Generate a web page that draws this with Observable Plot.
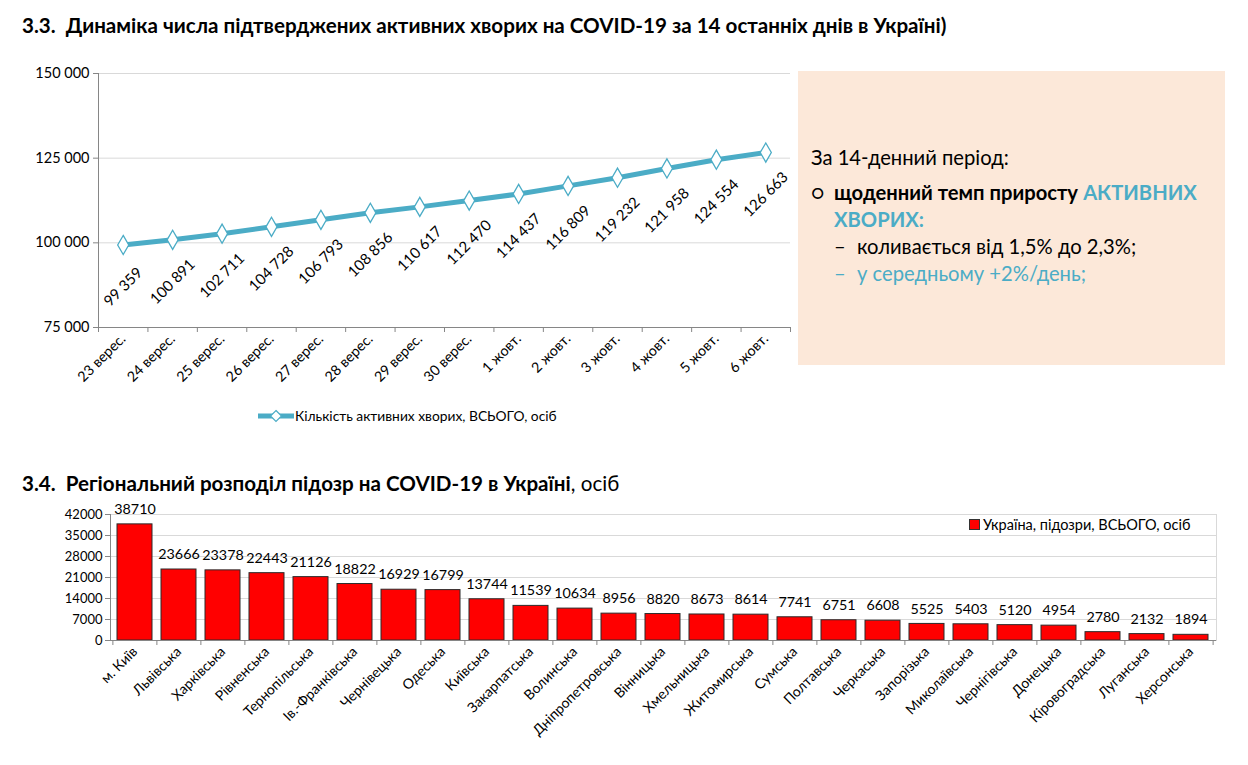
<!DOCTYPE html>
<html><head><meta charset="utf-8">
<script src="https://cdn.jsdelivr.net/npm/d3@7"></script>
<script src="https://cdn.jsdelivr.net/npm/@observablehq/plot@0.6"></script>
<style>
body{margin:0;background:#fff;font-family:Lato, Roboto, sans-serif;color:#000;}
#page{position:relative;width:1248px;height:765px;overflow:hidden;background:#fff;}
.abs{position:absolute;white-space:nowrap;}
.title{font-weight:bold;font-size:20.6px;line-height:24px;}
#box{left:798px;top:71px;width:427px;height:294px;background:#fce8d9;}
#box .ln{position:absolute;font-size:20.2px;line-height:26px;white-space:nowrap;}
.teal{color:#4bacc6;}
.legend{display:flex;align-items:center;}
</style></head><body><div id="page">
<div class="abs title" style="left:22px;top:13px">3.3.&nbsp; Динаміка числа підтверджених активних хворих на COVID-19 за 14 останніх днів в Україні)</div>
<div class="abs" id="topChart" style="left:0;top:60px"></div>
<div class="abs legend" style="left:258px;top:407px;font-size:13.8px">
  <svg width="36" height="14" style="margin-right:1px"><line x1="0" y1="7" x2="36" y2="7" stroke="#4bacc6" stroke-width="5"/><path d="M18,1.5L23.5,7L18,12.5L12.5,7Z" fill="#fff" stroke="#4bacc6" stroke-width="1.2"/></svg>
  <span>Кількість активних хворих, ВСЬОГО, осіб</span>
</div>
<div class="abs" id="box">
  <div class="ln" style="left:13px;top:73px">За 14-денний період:</div>
  <div class="ln" style="left:13px;top:108px">○</div>
  <div class="ln" style="left:36px;top:108px"><b>щоденний темп приросту</b> <b class="teal">АКТИВНИХ</b></div>
  <div class="ln" style="left:36px;top:135px"><b class="teal">ХВОРИХ:</b></div>
  <div class="ln" style="left:36px;top:162px">–</div>
  <div class="ln" style="left:59px;top:162px">коливається від 1,5% до 2,3%;</div>
  <div class="ln teal" style="left:36px;top:189px">–</div>
  <div class="ln teal" style="left:59px;top:189px">у середньому +2%/день;</div>
</div>
<div class="abs title" style="left:22px;top:471px">3.4.&nbsp; Регіональний розподіл підозр на COVID-19 в Україні<span style="font-weight:normal">, осіб</span></div>
<div class="abs" id="bottomChart" style="left:0;top:500px"></div>
<div class="abs legend" style="left:969px;top:516px;font-size:14.5px">
  <span style="display:inline-block;width:9px;height:9px;background:#ff0000;border:1px solid #333;margin-right:3px"></span>
  <span>Україна, підозри, ВСЬОГО, осіб</span>
</div>
</div>
<script>
// ---- Data: chart 3.3 ----
const dates = ["23 верес.","24 верес.","25 верес.","26 верес.","27 верес.","28 верес.","29 верес.","30 верес.","1 жовт.","2 жовт.","3 жовт.","4 жовт.","5 жовт.","6 жовт."];
const activeCases = [99359,100891,102711,104728,106793,108856,110617,112470,114437,116809,119232,121958,124554,126663];
const topYTicks = [75000,100000,125000,150000];

// ---- Data: chart 3.4 ----
const regions = ["м. Київ","Львівська","Харківська","Рівненська","Тернопільська","Ів.-Франківська","Чернівецька","Одеська","Київська","Закарпатська","Волинська","Дніпропетровська","Вінницька","Хмельницька","Житомирська","Сумська","Полтавська","Черкаська","Запорізька","Миколаївська","Чернігівська","Донецька","Кіровоградська","Луганська","Херсонська"];
const suspicions = [38710,23666,23378,22443,21126,18822,16929,16799,13744,11539,10634,8956,8820,8673,8614,7741,6751,6608,5525,5403,5120,4954,2780,2132,1894];
const bottomYTicks = [0,7000,14000,21000,28000,35000,42000];

const FONT = "Lato, Roboto, sans-serif";
const fmtSpace = d => d3.format(",")(d).replace(/,/g, " ");

// ---- Chart 3.3 ----
const topData = dates.map((d, i) => ({pos: i + 0.5, date: d, value: activeCases[i]}));
const topChart = Plot.plot({
  width: 800, height: 340,
  marginLeft: 98, marginRight: 10, marginTop: 13, marginBottom: 73,
  style: {fontFamily: FONT, fontSize: "13px", color: "#000", background: "transparent", overflow: "visible"},
  x: {type: "linear", domain: [0, dates.length], axis: null},
  y: {domain: [75000, 150000], axis: null},
  marks: [
    Plot.gridY(topYTicks, {stroke: "#d9d9d9", strokeOpacity: 1}),
    Plot.ruleX([0], {stroke: "#868686"}),
    Plot.ruleY([75000], {stroke: "#868686"}),
    Plot.axisY(topYTicks, {tickFormat: fmtSpace, tickSize: 5, tickPadding: 4, stroke: "#868686", fontSize: 14.5, label: null}),
    Plot.axisX(d3.range(0, dates.length + 1), {tickFormat: () => "", tickSize: 5, stroke: "#868686", label: null}),
    Plot.axisX(topData.map(d => d.pos), {tickFormat: d => dates[Math.round(d - 0.5)], tickSize: 0, tickPadding: 9, tickRotate: -45, fontSize: 14.3, label: null}),
    Plot.line(topData, {x: "pos", y: "value", stroke: "#4bacc6", strokeWidth: 5}),
    Plot.dot(topData, {x: "pos", y: "value", symbol: "diamond", r: 5.8, fill: "white", stroke: "#4bacc6", strokeWidth: 1.3}),
    Plot.text(topData, {x: "pos", y: "value", text: d => fmtSpace(d.value), rotate: -45, dy: 42, fontSize: 15, fill: "#000"})
  ]
});
document.getElementById("topChart").appendChild(topChart);

// ---- Chart 3.4 ----
const barData = regions.map((r, i) => ({region: r, value: suspicions[i]}));
const BW = 1248, ML = 110, MR = 32;
const step = (BW - ML - MR) / regions.length;
const bottomChart = Plot.plot({
  width: BW, height: 265,
  marginLeft: ML, marginRight: MR, marginTop: 14, marginBottom: 125,
  style: {fontFamily: FONT, fontSize: "12px", color: "#000", background: "transparent", overflow: "visible"},
  x: {domain: regions, paddingInner: 0.2, paddingOuter: 0.1, axis: null},
  y: {domain: [0, 42000], axis: null},
  marks: [
    Plot.gridY(bottomYTicks, {stroke: "#d9d9d9", strokeOpacity: 1}),
    Plot.frame({anchor: "right", stroke: "#d9d9d9"}),
    Plot.barY(barData, {x: "region", y: "value", fill: "#ff0000", stroke: "#2b2b2b", strokeWidth: 1}),
    Plot.text(barData, {x: "region", y: "value", text: d => String(d.value), dy: -15, fontSize: 14.3, fill: "#000"}),
    Plot.frame({anchor: "left", stroke: "#868686"}),
    Plot.ruleY([0], {stroke: "#868686"}),
    Plot.axisY(bottomYTicks, {tickFormat: d => String(d), tickSize: 5, tickPadding: 3, stroke: "#868686", fontSize: 13, label: null}),
    Plot.axisX(regions, {tickSize: 5, tickFormat: () => "", dx: -step / 2, stroke: "#868686", label: null}),
    Plot.axisX([regions[regions.length - 1]], {tickSize: 5, tickFormat: () => "", dx: step / 2, stroke: "#868686", label: null}),
    Plot.axisX(regions, {tickSize: 0, tickPadding: 9, tickRotate: -45, fontSize: 14, label: null})
  ]
});
document.getElementById("bottomChart").appendChild(bottomChart);
</script>
</body></html>
